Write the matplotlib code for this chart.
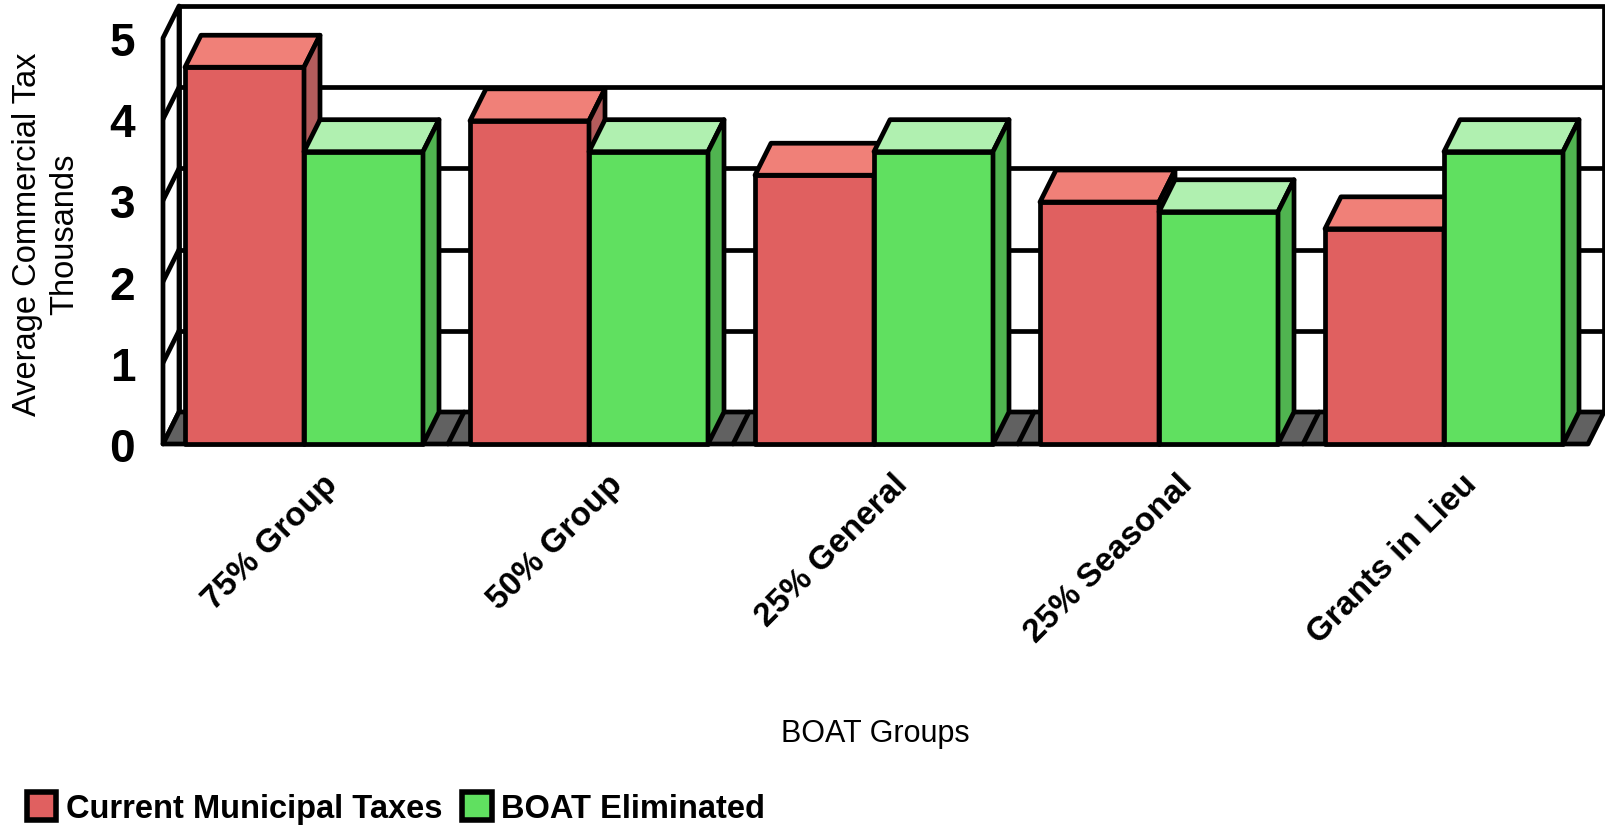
import numpy as np
import matplotlib.pyplot as plt
from matplotlib.patches import Polygon, Patch

plt.rcParams['font.family'] = ['Liberation Sans', 'DejaVu Sans']

groups = ['75% Group', '50% Group', '25% General', '25% Seasonal', 'Grants in Lieu']
current_taxes = [4.64, 3.98, 3.31, 2.98, 2.65]
boat_eliminated = [3.60, 3.60, 3.60, 2.86, 3.60]
series_names = ['Current Municipal Taxes', 'BOAT Eliminated']
y_ticks = [0, 1, 2, 3, 4, 5]

# colours: front, top, side
red = ('#e06060', '#f08078', '#b35c5c')
green = ('#60e060', '#b0f0b0', '#50b450')
floor_col = '#616161'

W, H = 1605, 829
fig = plt.figure(figsize=(W / 100, H / 100), dpi=100)

# pixel geometry of the front plane
px_cat = 285.0      # px per category
px_unit = 81.2      # px per y unit
ddx = 16 / px_cat   # depth offset in data units
ddy = 32 / px_unit
ymax = 5
n = len(groups)

left_px, bottom_px = 163, 445
ax_w = (n + ddx) * px_cat
ax_h = (ymax + ddy) * px_unit
ax = fig.add_axes([left_px / W, 1 - bottom_px / H, ax_w / W, ax_h / H])
ax.set_xlim(0, n + ddx)
ax.set_ylim(0, ymax + ddy)
for s in ax.spines.values():
    s.set_visible(False)

lw = 3.4
def poly(pts, fc, z):
    ax.add_patch(Polygon(pts, closed=True, facecolor=fc, edgecolor='black',
                         linewidth=lw, joinstyle='round', clip_on=False, zorder=z))

# back wall
poly([(ddx, ddy), (n + ddx, ddy), (n + ddx, ymax + ddy), (ddx, ymax + ddy)], 'white', 1)
# left wall
poly([(0, 0), (ddx, ddy), (ddx, ymax + ddy), (0, ymax)], 'white', 1)
for k in y_ticks[1:-1]:
    ax.plot([ddx, n + ddx], [k + ddy, k + ddy], color='black', lw=lw, zorder=1.5)
    ax.plot([0, ddx], [k, k + ddy], color='black', lw=lw, zorder=1.5)
# floor
poly([(0, 0), (ddx, ddy), (n + ddx, ddy), (n, 0)], floor_col, 2)
for i in range(1, n):
    ax.plot([i, i + ddx], [0, ddy], color='black', lw=lw, zorder=2.5,
            solid_capstyle='round', clip_on=False)

gap = 22 / px_cat
bw = 119 / px_cat

def bar3d(x0, v, cols, z):
    x1 = x0 + bw
    poly([(x0, 0), (x1, 0), (x1, v), (x0, v)], cols[0], z)
    poly([(x0, v), (x0 + ddx, v + ddy), (x1 + ddx, v + ddy), (x1, v)], cols[1], z)
    poly([(x1, 0), (x1, v), (x1 + ddx, v + ddy), (x1 + ddx, ddy)], cols[2], z)

z = 3
for i in range(n):
    bar3d(i + gap, current_taxes[i], red, z)
    z += 1
    bar3d(i + gap + bw, boat_eliminated[i], green, z)
    z += 1

# y ticks
ax.set_yticks(y_ticks)
ax.set_yticklabels([str(t) for t in y_ticks], fontsize=33, fontweight='bold')
ax.tick_params(axis='y', length=0, pad=20)
ax.set_xticks([])

# category labels
for i, g in enumerate(groups):
    ax.text(i + 0.5 + 0.095, -0.43, g, rotation=45, ha='right', va='center',
            rotation_mode='anchor', fontsize=24, fontweight='bold')

fig.text(875 / W, 1 - 734 / H, 'BOAT Groups', ha='center', va='center', fontsize=22)
fig.text(46 / W, 1 - 234 / H, 'Average Commercial Tax\nThousands', rotation=90,
         ha='center', va='center', fontsize=23.5, multialignment='center', linespacing=1.25)

handles = [Patch(facecolor=red[0], edgecolor='black', linewidth=4, joinstyle='round'),
           Patch(facecolor=green[0], edgecolor='black', linewidth=4, joinstyle='round')]
leg = fig.legend(handles, series_names, loc='lower left', ncol=2,
                 bbox_to_anchor=(27 / W, 1 - 825 / H), frameon=False,
                 prop={'size': 23.5, 'weight': 'bold'}, handlelength=0.9,
                 handleheight=0.95, handletextpad=0.3, columnspacing=0.6,
                 borderpad=0, borderaxespad=0)

fig.savefig('out.png', dpi=100)
